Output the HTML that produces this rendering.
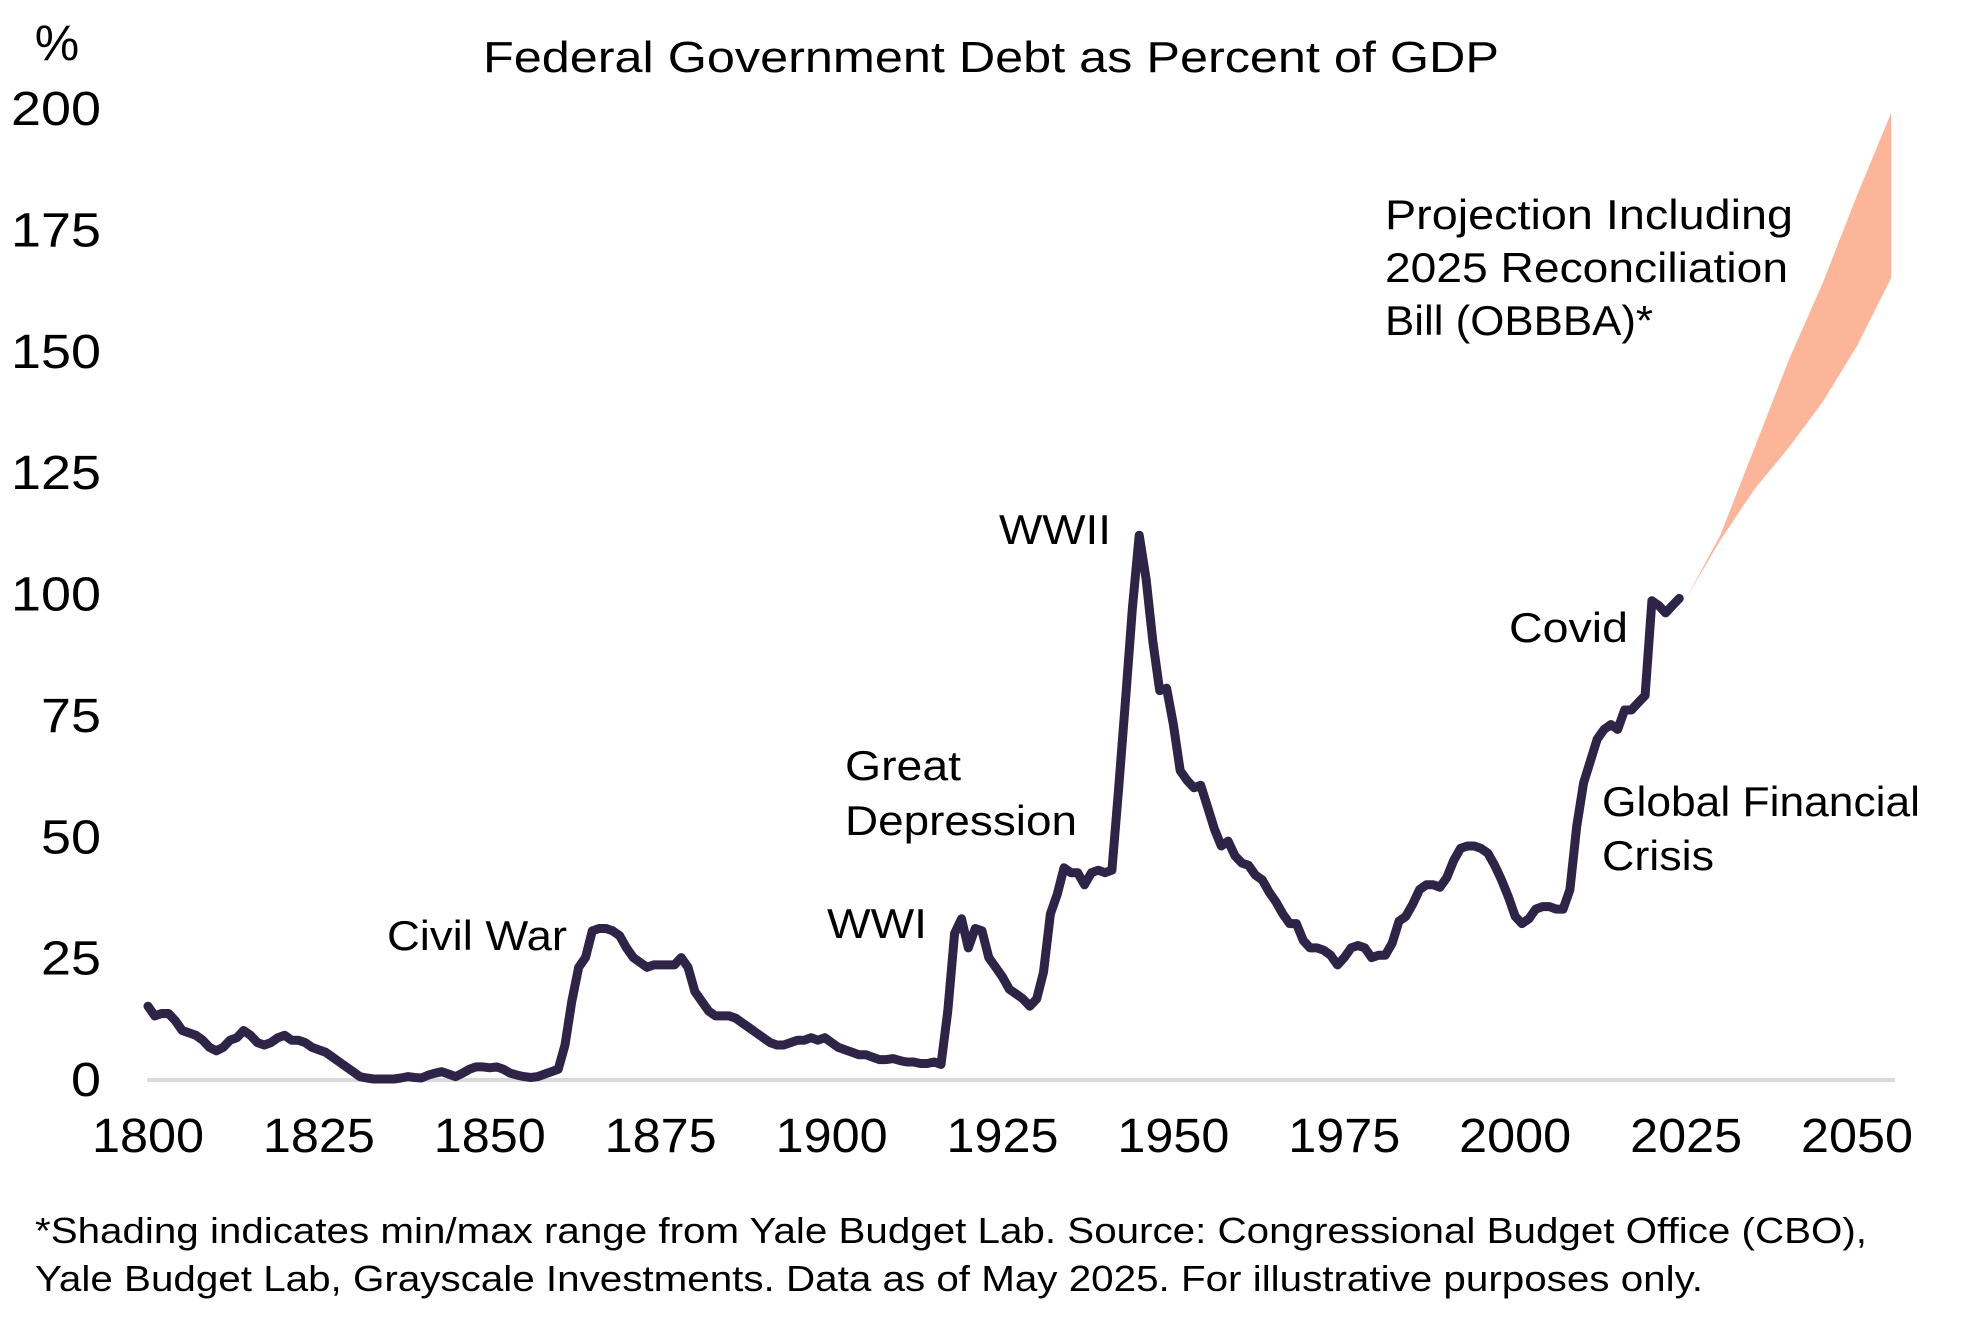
<!DOCTYPE html>
<html><head><meta charset="utf-8"><style>
html,body{margin:0;padding:0;background:#fff;}
svg{display:block;}
text{font-family:"Liberation Sans",sans-serif;fill:#000;}
</style></head><body>
<svg id="chart" width="1981" height="1321" viewBox="0 0 1981 1321" xmlns="http://www.w3.org/2000/svg">
<text x="57" y="60" font-size="50" text-anchor="middle">%</text>
<text x="991" y="72" font-size="44" text-anchor="middle" textLength="1016" lengthAdjust="spacingAndGlyphs">Federal Government Debt as Percent of GDP</text>
<g id="yticks"></g>
<g id="xticks"></g>
<line x1="147" y1="1080" x2="1895" y2="1080" stroke="#d9d9d9" stroke-width="4"/>
<g id="marks"></g>
<g font-size="42">
<text x="1385" y="229" textLength="408" lengthAdjust="spacingAndGlyphs">Projection Including</text>
<text x="1385" y="282" textLength="403" lengthAdjust="spacingAndGlyphs">2025 Reconciliation</text>
<text x="1385" y="335" textLength="268" lengthAdjust="spacingAndGlyphs">Bill (OBBBA)*</text>
<text x="387" y="950" textLength="180" lengthAdjust="spacingAndGlyphs">Civil War</text>
<text x="845" y="780" textLength="116" lengthAdjust="spacingAndGlyphs">Great</text>
<text x="845" y="835" textLength="232" lengthAdjust="spacingAndGlyphs">Depression</text>
<text x="827" y="938" textLength="100" lengthAdjust="spacingAndGlyphs">WWI</text>
<text x="999" y="544" textLength="112" lengthAdjust="spacingAndGlyphs">WWII</text>
<text x="1509" y="642" textLength="119" lengthAdjust="spacingAndGlyphs">Covid</text>
<text x="1602" y="816" textLength="318" lengthAdjust="spacingAndGlyphs">Global Financial</text>
<text x="1602" y="870" textLength="112" lengthAdjust="spacingAndGlyphs">Crisis</text>
</g>
<text x="35" y="1243" font-size="36" textLength="1832" lengthAdjust="spacingAndGlyphs">*Shading indicates min/max range from Yale Budget Lab. Source: Congressional Budget Office (CBO),</text>
<text x="35" y="1291" font-size="36" textLength="1668" lengthAdjust="spacingAndGlyphs">Yale Budget Lab, Grayscale Investments. Data as of May 2025. For illustrative purposes only.</text>
</svg>
<script>
const startYear = 1800;
const debtValues = [15,13,13.5,13.5,12,10,9.5,9,8,6.5,5.8,6.5,8,8.5,10,9,7.5,7,7.5,8.5,9,8,8,7.5,6.5,6,5.5,4.5,3.5,2.5,1.5,0.5,0.2,0,0,0,0,0.2,0.5,0.3,0.2,0.8,1.2,1.5,1,0.5,1.2,2,2.5,2.5,2.3,2.5,2,1.2,0.8,0.5,0.3,0.5,1,1.5,2,7,16,23,25,30.5,31,31,30.5,29.5,27,25,24,23,23.5,23.5,23.5,23.5,25,23,18,16,14,13,13,13,12.5,11.5,10.5,9.5,8.5,7.5,7,7,7.5,8,8,8.5,8,8.5,7.5,6.5,6,5.5,5,5,4.5,4,4,4.2,3.8,3.5,3.5,3.2,3.2,3.5,3,14,30,33,27,31,30.5,25,23,21,18.5,17.5,16.5,15,16.5,22,34,38,43.5,42.5,42.5,40,42.5,43,42.5,43,60,78,97,112,103,90,80,80.5,73,63.5,61.5,60,60.5,56,51.5,48,49,46,44.5,44,42,41,38.5,36.5,34,32,32,28.5,27,27,26.5,25.5,23.5,25,27,27.5,27,25,25.5,25.5,28,32.5,33.5,36,39,40,40,39.5,41.5,45,47.5,48,48,47.5,46.5,44,41,37.5,33.5,32,33,35,35.5,35.5,35,35,39,52,61,65.5,70,72,73,72,76,76,77.5,79,98.5,97.5,96,97.5,99];
const projYears = [2025,2030,2035,2040,2045,2050,2055];
const projUpper = [99,112,130,148,164,182,199];
const projLower = [99,111,121.5,130,139.5,151,165];
const yTickValues = [0,25,50,75,100,125,150,175,200];
const xTickYears = [1800,1825,1850,1875,1900,1925,1950,1975,2000,2025,2050];

const NS = "http://www.w3.org/2000/svg";
function xs(yr){ return 148 + (yr - 1800) * 6.836; }
function ys(v){ return 1079 - v * 4.855; }
function mk(tag, attrs, parent){
  const e = document.createElementNS(NS, tag);
  for (const k in attrs) e.setAttribute(k, attrs[k]);
  parent.appendChild(e); return e;
}
const yg = document.getElementById('yticks');
yTickValues.forEach(v => {
  const s = String(v);
  const t = mk('text', {x:101, y:ys(v)+17, 'font-size':48, 'text-anchor':'end', textLength: s.length*30, lengthAdjust:'spacingAndGlyphs'}, yg);
  
  
  t.textContent = s;
});
const xg = document.getElementById('xticks');
xTickYears.forEach(yr => {
  const t = mk('text', {x:xs(yr), y:1152, 'font-size':48, 'text-anchor':'middle', textLength:112, lengthAdjust:'spacingAndGlyphs'}, xg);
  
  
  t.textContent = yr;
});
const mg = document.getElementById('marks');
let d = '';
projYears.forEach((yr,i) => { d += (i? 'L':'M') + xs(yr).toFixed(1) + ',' + ys(projUpper[i]).toFixed(1); });
for (let i = projYears.length-1; i >= 0; i--) d += 'L' + xs(projYears[i]).toFixed(1) + ',' + ys(projLower[i]).toFixed(1);
d += 'Z';
const band = mk('path', {d:d, fill:'#fdb59a'}, mg);


let ld = '';
debtValues.forEach((v,i) => { ld += (i? 'L':'M') + xs(startYear+i).toFixed(1) + ',' + ys(v).toFixed(1); });
const line = mk('path', {d:ld, fill:'none', stroke:'#2e2448', 'stroke-width':9, 'stroke-linejoin':'round', 'stroke-linecap':'round'}, mg);


</script>
</body></html>
